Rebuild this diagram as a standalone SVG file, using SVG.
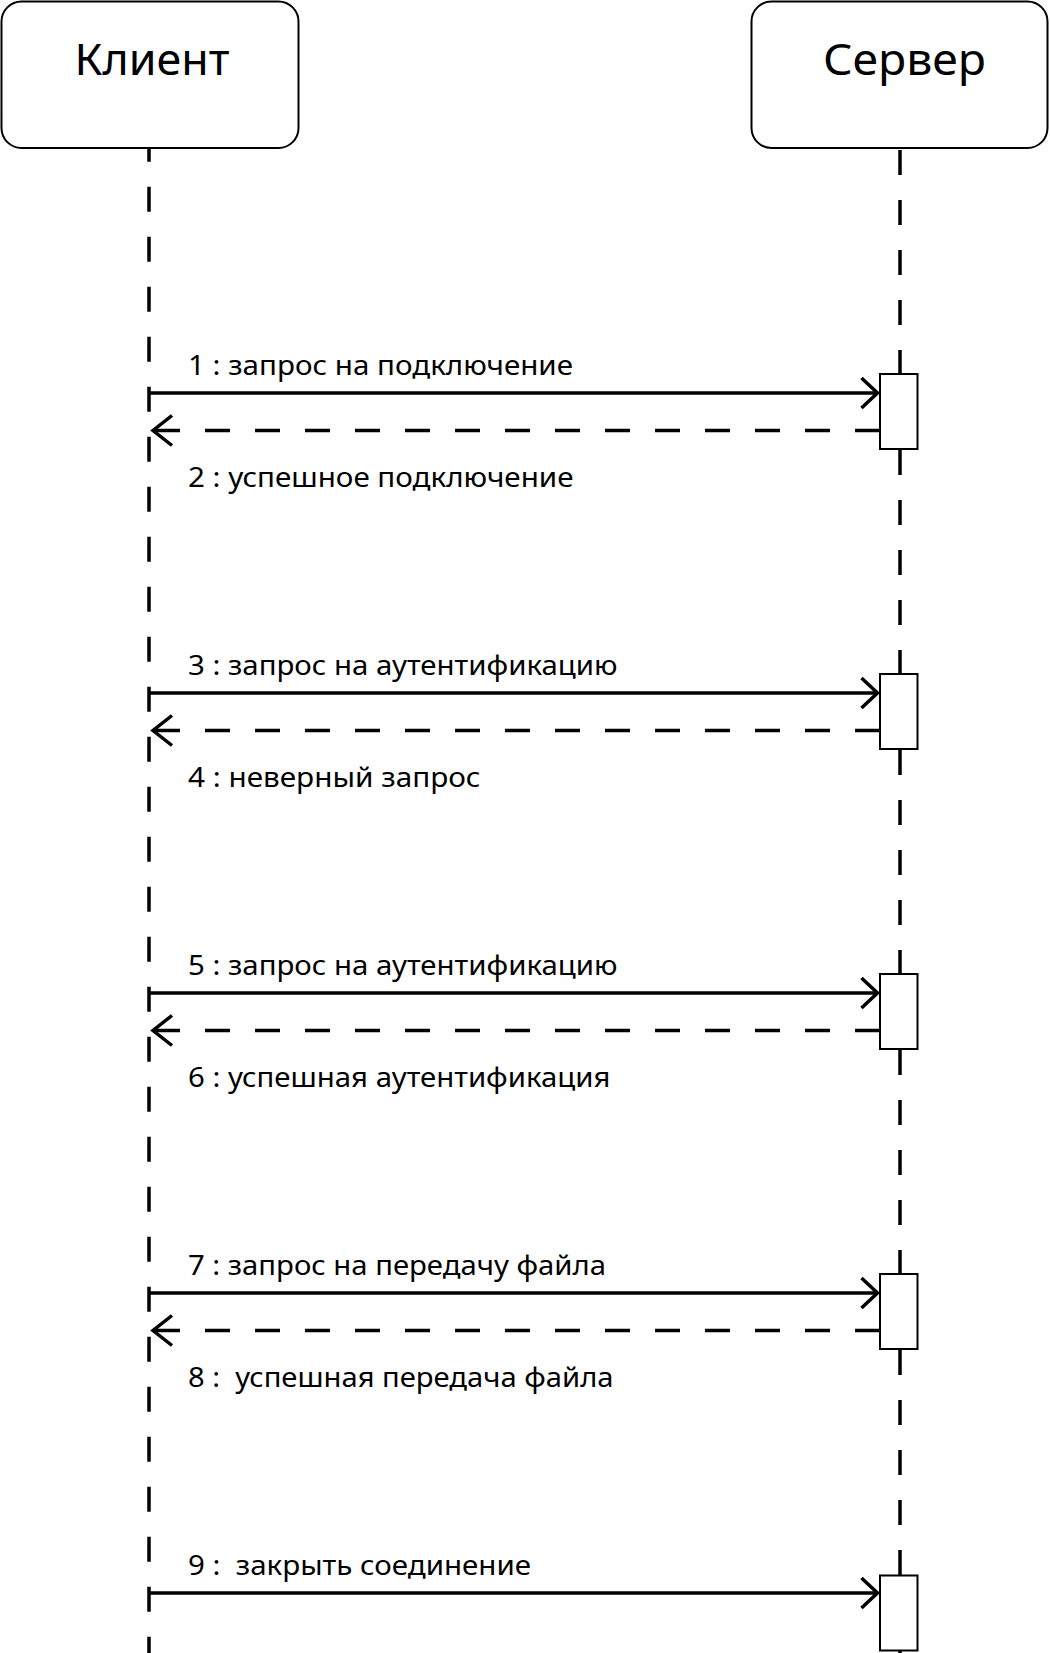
<svg xmlns="http://www.w3.org/2000/svg" width="1050" height="1653" viewBox="0 0 1050 1653">
<style>
.box{fill:#fff;stroke:#000;stroke-width:2}
.title{font-family:"Noto Sans","Open Sans","DejaVu Sans",sans-serif;font-size:44px;fill:#000}
.lbl{font-family:"Noto Sans","Open Sans","DejaVu Sans",sans-serif;font-size:28px;fill:#000}
.life{fill:none;stroke:#000;stroke-width:3.5;stroke-dasharray:25 25}
.act{fill:#fff;stroke:#000;stroke-width:2}
.call{fill:none;stroke:#000;stroke-width:3.5;marker-end:url(#arrCall)}
.ret{fill:none;stroke:#000;stroke-width:3.5;stroke-dasharray:25 25;marker-end:url(#arrRet)}
</style>
<defs>
<marker id="arrCall" markerUnits="userSpaceOnUse" refX="0" refY="0" markerWidth="40" markerHeight="40" orient="auto" overflow="visible">
<path d="M-16,-15 L0,0 L-16,15" fill="none" stroke="#000" stroke-width="3.5"/>
</marker>
<marker id="arrRet" markerUnits="userSpaceOnUse" refX="0" refY="0" markerWidth="40" markerHeight="40" orient="auto" overflow="visible">
<path d="M-19,-15 L0,0 L-19,15" fill="none" stroke="#000" stroke-width="3.5"/>
</marker>
</defs>
<rect width="1050" height="1653" fill="#fff"/>
<g id="lifelines">
<path class="life" d="M149,148 V1653" stroke-dashoffset="11.3"/>
<path class="life" d="M900,148 V1653" stroke-dashoffset="48"/>
</g>
<g id="node-client">
<rect class="box" x="1.5" y="1.5" width="297" height="146.5" rx="20" ry="20"/>
<text class="title" x="74.5" y="75" textLength="155" lengthAdjust="spacingAndGlyphs">Клиент</text>
</g>
<g id="node-server">
<rect class="box" x="751.5" y="1.5" width="296" height="146.5" rx="20" ry="20"/>
<text class="title" x="823" y="75" textLength="163" lengthAdjust="spacingAndGlyphs">Сервер</text>
</g>
<g id="activations">
<rect class="act" x="880" y="374" width="37.5" height="75"/>
<rect class="act" x="880" y="674" width="37.5" height="75"/>
<rect class="act" x="880" y="974" width="37.5" height="75"/>
<rect class="act" x="880" y="1274" width="37.5" height="75"/>
<rect class="act" x="880" y="1575.5" width="37.5" height="75"/>
</g>
<g id="connectors">
<path class="call" d="M149,393 H877.5"/>
<path class="ret" d="M880,430.5 H153"/>
<path class="call" d="M149,693 H877.5"/>
<path class="ret" d="M880,730.5 H153"/>
<path class="call" d="M149,993 H877.5"/>
<path class="ret" d="M880,1030.5 H153"/>
<path class="call" d="M149,1293 H877.5"/>
<path class="ret" d="M880,1330.5 H153"/>
<path class="call" d="M149,1593 H877.5"/>
<text class="lbl" x="188" y="374.5" textLength="385" lengthAdjust="spacingAndGlyphs">1 : запрос на подключение</text>
<text class="lbl" x="188" y="486.7" textLength="385.5" lengthAdjust="spacingAndGlyphs">2 : успешное подключение</text>
<text class="lbl" x="188" y="674.5" textLength="429.5" lengthAdjust="spacingAndGlyphs">3 : запрос на аутентификацию</text>
<text class="lbl" x="188" y="786.7" textLength="292.5" lengthAdjust="spacingAndGlyphs">4 : неверный запрос</text>
<text class="lbl" x="188" y="974.5" textLength="429.5" lengthAdjust="spacingAndGlyphs">5 : запрос на аутентификацию</text>
<text class="lbl" x="188" y="1086.7" textLength="422.5" lengthAdjust="spacingAndGlyphs">6 : успешная аутентификация</text>
<text class="lbl" x="188" y="1274.5" textLength="418" lengthAdjust="spacingAndGlyphs">7 : запрос на передачу файла</text>
<text class="lbl" x="188" y="1386.7" textLength="425.5" lengthAdjust="spacingAndGlyphs" xml:space="preserve">8 :  успешная передача файла</text>
<text class="lbl" x="188" y="1574.5" textLength="343" lengthAdjust="spacingAndGlyphs" xml:space="preserve">9 :  закрыть соединение</text>
</g>
</svg>
